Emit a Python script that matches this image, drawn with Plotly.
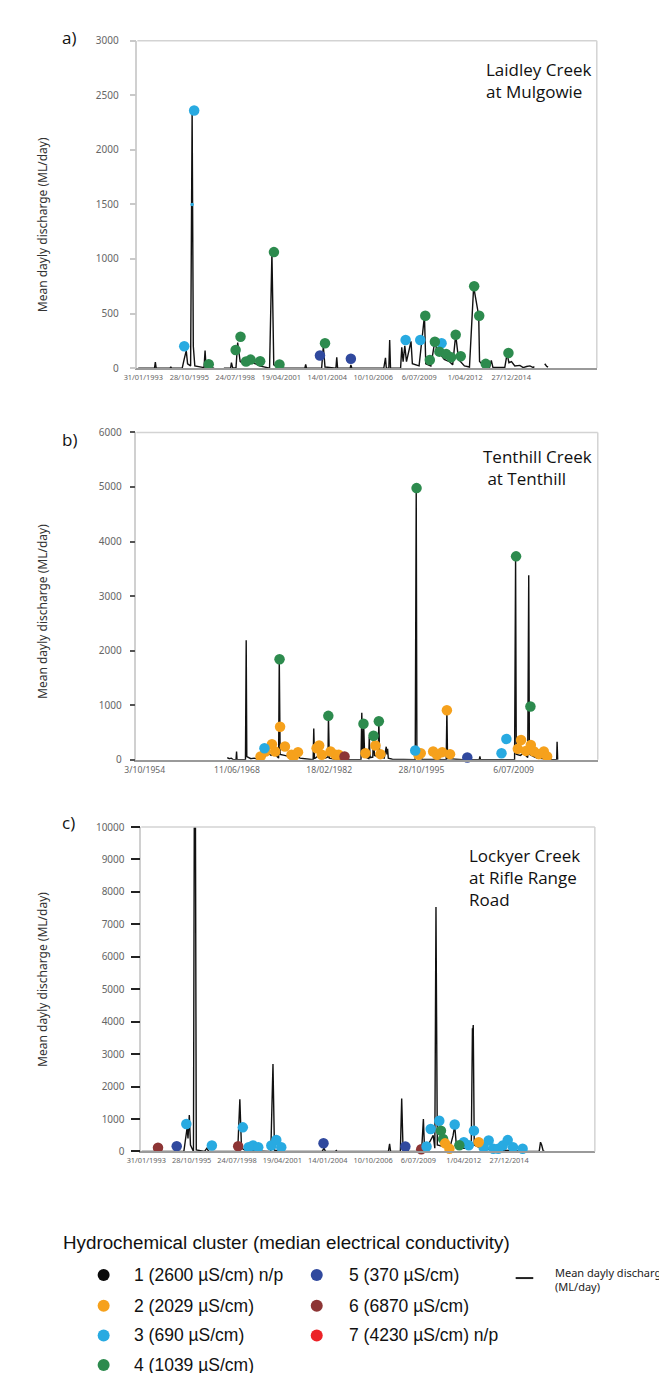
import datetime as dt
import plotly.graph_objects as go

W, H = 667, 1373

# ---------------- tick labels ----------------
A_TICKS = ["31/01/1993", "28/10/1995", "24/07/1998", "19/04/2001", "14/01/2004",
           "10/10/2006", "6/07/2009", "1/04/2012", "27/12/2014"]
B_TICKS = ["3/10/1954", "11/06/1968", "18/02/1982", "28/10/1995", "6/07/2009"]
C_TICKS = A_TICKS

# ---------------- panel a: Laidley Creek at Mulgowie (decimal year, ML/day) ----------------
A_DISCHARGE = [(1992.78, 0), (1993.75, 0), (1993.80, 54), (1993.85, 0), (1994.68, 0), (1994.72, 12),
               (1994.76, 0), (1995.40, 0), (1995.50, 70), (1995.64, 160), (1995.72, 40), (1995.90, 20),
               (1995.99, 2360), (1996.06, 200), (1996.15, 20), (1996.70, 5), (1996.76, 160), (1996.82, 10),
               (1997.30, 0), (None, None),
               (1997.88, 0), (1998.28, 0), (1998.33, 50), (1998.40, 5), (1998.60, 0), (1998.70, 235),
               (1998.85, 60), (1999.20, 30), (1999.50, 60), (2000.00, 20), (2000.60, 0), (2000.74, 1057),
               (2000.85, 30), (2001.20, 0), (2002.70, 0), (2002.75, 33), (2002.80, 0), (2003.70, 0),
               (2003.80, 200), (2003.90, 10), (2004.55, 0), (2004.60, 100), (2004.65, 0), (2005.40, 0),
               (2005.44, 30), (2005.50, 0), (2007.40, 0), (2007.50, 94), (2007.55, 0), (2007.70, 0),
               (2007.75, 257), (2007.80, 0), (2008.40, 0), (2008.47, 190), (2008.55, 60), (2008.65, 205),
               (2008.75, 60), (2009.02, 245), (2009.10, 40), (2009.50, 20), (2009.82, 477), (2009.90, 40),
               (2010.20, 20), (2010.44, 250), (2010.60, 130), (2010.80, 120), (2011.00, 80), (2011.30, 60),
               (2011.50, 30), (2011.68, 305), (2011.85, 80), (2012.20, 20), (2012.50, 10), (2012.75, 750),
               (2012.80, 700), (2013.05, 480), (2013.10, 60), (2013.30, 30), (2013.70, 10), (2013.80, 70),
               (2013.90, 5), (2014.60, 5), (2014.74, 130), (2014.85, 50), (2015.00, 60), (2015.20, 20),
               (2015.50, 25), (2015.70, 5), (2015.90, 15), (2016.10, 20), (2016.30, 5), (2016.36, 15),
               (None, None), (2016.98, 40), (2017.10, 15), (2017.18, 10)]
A_C3 = [(1995.52, 200), (1996.11, 2360), (2008.70, 257), (2009.57, 257), (2010.84, 227)]
A_C3_SMALL = [(1995.99, 1500)]
A_C4 = [(1996.98, 35), (1998.58, 166), (1998.87, 287), (1999.20, 60), (1999.47, 78), (2000.04, 63),
        (2000.86, 1063), (2001.19, 33), (2003.90, 227), (2009.87, 480), (2010.14, 75), (2010.44, 242),
        (2010.71, 151), (2011.11, 130), (2011.41, 100), (2011.68, 305), (2011.98, 109), (2012.78, 750),
        (2013.08, 480), (2013.47, 39), (2014.82, 139)]
A_C5 = [(2003.60, 115), (2005.44, 85)]

# ---------------- panel b: Tenthill Creek at Tenthill ----------------
B_DISCHARGE = [(1967.0, 40), (1967.3, 20), (1967.6, 30), (1967.9, 0), (1968.3, 0), (1968.38, 150),
               (1968.45, 0), (1969.7, 0), (1969.81, 2193), (1969.9, 60), (1970.5, 20), (1971.0, 30),
               (1971.8, 0), (1972.2, 120), (1972.6, 60), (1973.0, 130), (1973.5, 80), (1974.0, 140),
               (1974.4, 60), (1974.62, 30), (1974.72, 1850), (1974.85, 100), (1975.5, 80), (1976.2, 60),
               (1977.0, 100), (1977.8, 30), (1978.5, 20), (1979.3, 10), (1979.75, 0), (1979.84, 574),
               (1979.95, 20), (1980.6, 80), (1981.0, 100), (1981.5, 30), (1981.95, 50), (1982.02, 800),
               (1982.15, 30), (1983.0, 10), (1984.5, 0), (1986.85, 0), (1986.97, 864), (1987.1, 100),
               (1987.2, 50), (1987.25, 650), (1987.4, 60), (1988.0, 20), (1988.08, 423), (1988.2, 40),
               (1988.6, 50), (1988.71, 440), (1988.85, 80), (1989.4, 60), (1989.5, 710), (1989.62, 60),
               (1990.3, 30), (1990.6, 240), (1990.7, 100), (1990.8, 200), (1990.9, 30), (1991.5, 10),
               (1994.9, 0), (1995.05, 4985), (1995.15, 40), (1996.0, 10), (1999.5, 0), (1999.6, 906),
               (1999.7, 20), (2002.0, 0), (2004.4, 0), (2004.5, 60), (2004.6, 0), (2009.65, 0),
               (2009.8, 3720), (2009.9, 100), (2010.5, 80), (2011.0, 120), (2011.6, 40), (2011.75, 3383),
               (2011.85, 100), (2012.5, 60), (2013.0, 30), (2014.0, 20), (2015.0, 0), (2015.9, 0),
               (2015.96, 332), (2016.05, 0)]
B_C2 = [(1971.94, 62), (1972.66, 152), (1973.63, 285), (1974.11, 152), (1974.84, 605), (1975.56, 243),
        (1976.53, 91), (1976.87, 62), (1977.50, 140), (1980.26, 212), (1980.64, 261), (1981.03, 91),
        (1982.33, 152), (1983.06, 91), (1983.54, 91), (1987.51, 121), (1989.0, 261), (1989.73, 103),
        (1995.38, 91), (1995.72, 121), (1997.56, 152), (1998.14, 91), (1998.91, 140), (1999.6, 907),
        (2000.07, 103), (2010.13, 200), (2010.61, 363), (2011.33, 163), (2012.06, 272), (2012.54, 152),
        (2013.26, 103), (2013.99, 152), (2014.48, 62)]
B_C3 = [(1972.52, 212), (1994.9, 170), (2007.71, 121), (2008.43, 381)]
B_C4 = [(1974.76, 1843), (1982.0, 805), (1987.22, 660), (1988.71, 442), (1989.5, 707), (1995.1, 4979),
        (2009.87, 3728), (2012.0, 975)]
B_C5 = [(2002.63, 43)]
B_C6 = [(1984.41, 62)]

# ---------------- panel c: Lockyer Creek at Rifle Range Road ----------------
C_DISCHARGE = [(1992.80, 0), (1995.35, 0), (1995.43, 300), (1995.55, 740), (1995.60, 400), (1995.68, 1119),
               (1995.75, 200), (1995.85, 50), (1995.93, 0), (1995.98, 10300), (1996.05, 10300), (1996.10, 50),
               (1996.6, 0), (1996.74, 100), (1996.85, 0), (1998.6, 0), (1998.73, 1607), (1998.83, 100),
               (1999.0, 50), (1999.5, 20), (2000.6, 0), (2000.73, 2696), (2000.82, 40), (2001.3, 0),
               (2003.7, 0), (2003.81, 100), (2003.9, 0), (2004.5, 0), (2004.55, 30), (2004.6, 0),
               (2007.7, 0), (2007.77, 234), (2007.83, 0), (2008.42, 0), (2008.50, 1628), (2008.58, 100),
               (2008.8, 200), (2008.9, 0), (2009.7, 0), (2009.81, 997), (2009.88, 50), (2010.2, 300),
               (2010.4, 500), (2010.5, 100), (2010.57, 7538), (2010.65, 200), (2011.0, 150), (2011.4, 100),
               (2011.6, 488), (2011.7, 800), (2011.8, 200), (2012.2, 100), (2012.7, 100), (2012.77, 3800),
               (2012.80, 3750), (2012.82, 3896), (2012.88, 200), (2013.3, 100), (2014.0, 50), (2015.0, 30),
               (2016.0, 0), (2016.8, 0), (2016.88, 285), (2016.95, 200), (2017.05, 0), (2017.15, 0)]
C_C2 = [(2011.12, 250), (2011.38, 82), (2013.15, 285)]
C_C3 = [(1995.50, 844), (1997.04, 183), (1998.91, 743), (1999.26, 132), (1999.52, 183), (1999.84, 132),
        (2000.63, 183), (2000.93, 356), (2001.23, 132), (2010.0, 153), (2010.25, 692), (2010.77, 946),
        (2011.7, 830), (2012.25, 287), (2012.55, 190), (2012.86, 641), (2013.45, 120), (2013.75, 336),
        (2014.03, 82), (2014.33, 82), (2014.6, 180), (2014.9, 350), (2015.22, 130), (2015.8, 82)]
C_C4 = [(2010.87, 641), (2011.0, 387), (2011.98, 190)]
C_C5 = [(1994.92, 163), (2003.78, 254), (2008.72, 153)]
C_C6 = [(1993.79, 112), (1998.63, 163), (2009.68, 70)]

# ---------------- legend ----------------
CLUSTER_LABELS = ["1 (2600 µS/cm) n/p", "2 (2029 µS/cm)", "3 (690 µS/cm)", "4 (1039 µS/cm)",
                  "5 (370 µS/cm)", "6 (6870 µS/cm)", "7 (4230 µS/cm) n/p"]
COLORS = {1: "#0a0a0a", 2: "#F6A11C", 3: "#28AAE1", 4: "#2D8B4E", 5: "#30499E", 6: "#8D3535", 7: "#EC2227"}


def dec_year(s):
    d, m, y = map(int, s.split("/"))
    n = 366 if (y % 4 == 0 and (y % 100 != 0 or y % 400 == 0)) else 365
    return y + (dt.date(y, m, d).timetuple().tm_yday - 1) / n


def unzip(pairs):
    return [p[0] for p in pairs], [p[1] for p in pairs]


def px(x):
    return x / W


def py(y):
    return 1 - y / H


fig = go.Figure()

panels = [
    dict(ax="", disch=A_DISCHARGE, clusters=[(3, A_C3), (4, A_C4), (5, A_C5)], ticks=A_TICKS,
         xr=[1992.73, 2020.08], yr=[0, 3000], dtick=500, dom_x=[117, 587], dom_y=[25, 356],
         ytickc="#c9c9c9", yticklen=6, ytickw=1.5, ystand=9, xfs=7.4),
    dict(ax="2", disch=B_DISCHARGE, clusters=[(2, B_C2), (3, B_C3), (4, B_C4), (5, B_C5), (6, B_C6)],
         ticks=B_TICKS, xr=[1953.51, 2022.0], yr=[0, 6000], dtick=1000, dom_x=[116, 588],
         dom_y=[421, 752], ytickc="#555", yticklen=5, ytickw=1.5, ystand=6, xfs=8.6),
    dict(ax="3", disch=C_DISCHARGE, clusters=[(6, C_C6), (5, C_C5), (3, C_C3), (4, C_C4), (2, C_C2)],
         ticks=C_TICKS, xr=[1992.78, 2020.16], yr=[0, 10000], dtick=1000, dom_x=[121, 585],
         dom_y=[820, 1148], ytickc="#222", yticklen=9, ytickw=2, ystand=4, xfs=7.4),
]

shapes = []
for p in panels:
    a = p["ax"]
    xs, ys = unzip(p["disch"])
    fig.add_trace(go.Scatter(x=xs, y=ys, mode="lines", line=dict(color="#111", width=1.4),
                             xaxis="x" + a, yaxis="y" + a, showlegend=False, hoverinfo="skip"))
    for cl, pts in p["clusters"]:
        mx, my = unzip(pts)
        fig.add_trace(go.Scatter(x=mx, y=my, mode="markers", cliponaxis=False,
                                 marker=dict(color=COLORS[cl], size=10.5, line=dict(width=0)),
                                 xaxis="x" + a, yaxis="y" + a, showlegend=False))
    if a == "":
        mx, my = unzip(A_C3_SMALL)
        fig.add_trace(go.Scatter(x=mx, y=my, mode="markers", marker=dict(color=COLORS[3], size=3.5),
                                 xaxis="x", yaxis="y", showlegend=False))
    fig.update_layout(**{
        "xaxis" + a: dict(domain=[px(p["dom_x"][0]), px(p["dom_x"][1])], range=p["xr"], anchor="y" + a,
                          tickvals=[dec_year(t) for t in p["ticks"]], ticktext=p["ticks"],
                          showgrid=False, zeroline=False, showline=True, linecolor="#9a9a9a", linewidth=1.5,
                          ticks="", ticklabelstandoff=1,
                          tickfont=dict(family="Noto Sans", size=p["xfs"], color="#666")),
        "yaxis" + a: dict(domain=[py(p["dom_y"][1]), py(p["dom_y"][0])], range=p["yr"], anchor="x" + a,
                          dtick=p["dtick"], tickformat="d", showgrid=False, zeroline=False, showline=True,
                          linecolor="#d0d0d0", linewidth=1.5, ticks="outside", ticklen=p["yticklen"],
                          tickcolor=p["ytickc"], tickwidth=p["ytickw"], ticklabelstandoff=p["ystand"],
                          tickfont=dict(family="Noto Sans", size=10, color="#666")),
    })
    xd = ("x" + a if a else "x") + " domain"
    yd = ("y" + a if a else "y") + " domain"
    shapes.append(dict(type="line", xref=xd, yref=yd, x0=0, x1=1, y0=1, y1=1,
                       line=dict(color="#d3d3d3", width=1.5)))
    shapes.append(dict(type="line", xref=xd, yref=yd, x0=1, x1=1, y0=0, y1=1,
                       line=dict(color="#d3d3d3", width=1.5)))

# overlay axis in pixel units for legend glyphs
fig.update_layout(
    xaxis4=dict(domain=[0, 1], range=[0, W], visible=False, anchor="y4"),
    yaxis4=dict(domain=[0, 1], range=[H, 0], visible=False, anchor="x4"),
)
LEG_COL_X = [82.5, 300.5]
LEG_TEXT_X = [111, 331]
LEG_ROW_Y = [1273, 1304, 1334, 1364]
leg_x, leg_y, leg_c = [], [], []
annotations = []
for i, lab in enumerate(CLUSTER_LABELS):
    col = 0 if i < 4 else 1
    row = i if i < 4 else i - 4
    leg_x.append(LEG_COL_X[col])
    leg_y.append(LEG_ROW_Y[row])
    leg_c.append(COLORS[i + 1])
    annotations.append(dict(x=LEG_TEXT_X[col], y=LEG_ROW_Y[row], xref="x4", yref="y4", text=lab,
                            showarrow=False, xanchor="left", yanchor="middle",
                            font=dict(family="Liberation Sans", size=17.5, color="#111")))
fig.add_trace(go.Scatter(x=leg_x, y=leg_y, mode="markers", cliponaxis=False,
                         marker=dict(color=leg_c, size=12, line=dict(width=0)),
                         xaxis="x4", yaxis="y4", showlegend=False, hoverinfo="skip"))
fig.add_trace(go.Scatter(x=[504, 522], y=[1276, 1276], mode="lines", line=dict(color="#222", width=2),
                         xaxis="x4", yaxis="y4", showlegend=False, hoverinfo="skip"))
annotations.append(dict(x=39, y=1240, xref="x4", yref="y4", text="Hydrochemical cluster (median electrical conductivity)",
                        showarrow=False, xanchor="left", yanchor="middle",
                        font=dict(family="Liberation Sans", size=18.8, color="#111")))
annotations.append(dict(x=542, y=1277, xref="x4", yref="y4", text="Mean dayly discharge<br>(ML/day)",
                        showarrow=False, xanchor="left", yanchor="middle", align="left",
                        font=dict(family="Noto Sans", size=11, color="#222")))

# panel titles, letters, axis titles
TITLES = [("Laidley Creek<br>at Mulgowie", 472, 65), ("Tenthill Creek<br> at Tenthill", 469, 456),
          ("Lockyer Creek<br>at Rifle Range<br>Road", 454, 871)]
for txt, x, y in TITLES:
    annotations.append(dict(x=x, y=y, xref="x4", yref="y4", text=txt, showarrow=False,
                            xanchor="left", yanchor="middle", align="left",
                            font=dict(family="Open Sans", size=17, color="#111")))
for lab, y in [("a)", 22), ("b)", 428), ("c)", 815)]:
    annotations.append(dict(x=38, y=y, xref="x4", yref="y4", text=lab, showarrow=False,
                            xanchor="left", yanchor="middle",
                            font=dict(family="Open Sans", size=17, color="#111")))
for y in [211, 602, 974]:
    annotations.append(dict(x=20, y=y, xref="x4", yref="y4", text="Mean dayly discharge (ML/day)",
                            showarrow=False, textangle=-90, xanchor="center", yanchor="middle",
                            font=dict(family="Noto Sans", size=12, color="#333")))

fig.update_layout(width=W, height=H, margin=dict(l=0, r=0, t=0, b=0),
                  paper_bgcolor="white", plot_bgcolor="rgba(0,0,0,0)",
                  shapes=shapes, annotations=annotations, showlegend=False)

fig.write_html("out.html")
